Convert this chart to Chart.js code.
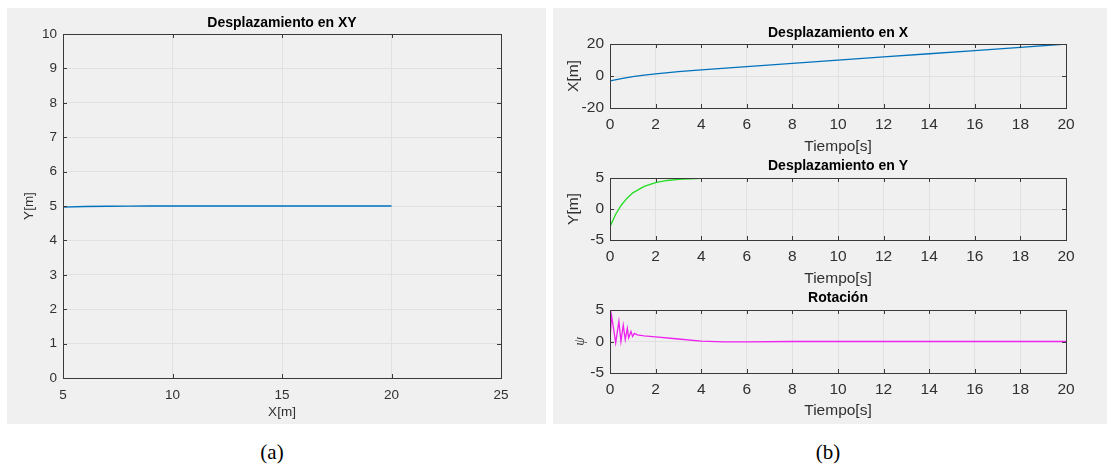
<!DOCTYPE html>
<html>
<head>
<meta charset="utf-8">
<script src="https://cdn.jsdelivr.net/npm/chart.js@4.4.1/dist/chart.umd.min.js"></script>
<style>
  body { margin: 0; background: #fff; }
  #page { position: relative; width: 1107px; height: 470px; overflow: hidden; background: #fff; }
  .gray { position: absolute; background: #f0f0f0; }
  canvas { position: absolute; }
  .cap { position: absolute; font-family: "Liberation Serif", "Times New Roman", serif; font-size: 21px; color: #000; transform: translate(-50%, -50%); }
</style>
</head>
<body>
<div id="page">
  <div class="gray" style="left:7px;top:8px;width:539px;height:416px"></div>
  <div class="gray" style="left:553px;top:8px;width:554px;height:416px"></div>
  <canvas id="cXY" width="539" height="416" style="left:7px;top:8px"></canvas>
  <canvas id="cX" width="554" height="416" style="left:553px;top:8px"></canvas>
  <canvas id="cY" width="554" height="416" style="left:553px;top:8px"></canvas>
  <canvas id="cPsi" width="554" height="416" style="left:553px;top:8px"></canvas>
  <div class="cap" style="left:272px;top:452px">(a)</div>
  <div class="cap" style="left:828px;top:452px">(b)</div>
</div>
<script>
// trayectoria XY (los puntos con x < 5 quedan fuera del eje)
const pathX = [-3.0, -0.4, 1.3, 2.7, 3.8, 5.0, 6.0, 7.0, 8.0, 9.0, 10, 12, 14, 16, 18, 20.0];
const pathY = [-2.85, 2.6, 4.25, 4.77, 4.93, 4.97, 4.985, 4.993, 4.998, 5.0, 5.0, 5.0, 5.0, 5.0, 5.0, 5.0];

// desplazamiento en X
const timeX = [0, 0.5, 1, 1.5, 2, 3, 4, 6, 8, 10, 12, 14, 16, 18, 20];
const posX = [-3.0, -1.6, -0.4, 0.6, 1.3, 2.7, 3.8, 5.8, 7.9, 9.9, 11.9, 13.9, 15.9, 17.9, 20.0];

// desplazamiento en Y
const timeY = [0, 0.25, 0.5, 0.75, 1, 1.5, 2, 2.5, 3, 3.5, 4, 5, 6, 8, 20];
const posY = [-2.85, -0.85, 0.65, 1.75, 2.6, 3.65, 4.25, 4.6, 4.77, 4.87, 4.93, 4.98, 5.0, 5.0, 5.0];

// rotacion psi
const timePsi = [0, 0.07, 0.25, 0.39, 0.48, 0.58, 0.67, 0.76, 0.82, 0.92, 0.99, 1.07, 1.2, 1.5, 2, 3, 4, 5, 6, 8, 20];
const psi = [0.3, 4.1, -0.2, 3.2, 0.0, 2.6, 0.3, 2.1, 0.6, 1.6, 0.8, 1.3, 1.05, 0.9, 0.75, 0.4, 0.05, -0.05, -0.05, 0, 0];

const SANS = '"Liberation Sans", Arial, sans-serif';
const TICK_COLOR = '#303030';
const GRID_COLOR = '#e1e1e1';

const toPoints = (xs, ys) => xs.map((x, i) => ({ x: x, y: ys[i] }));

// caja tipo MATLAB: borde, marcas hacia dentro y titulo
const matlabAxes = {
  id: 'matlabAxes',
  afterDraw(chart, args, opts) {
    const { ctx, chartArea: a } = chart;
    const sx = chart.scales.x, sy = chart.scales.y;
    const L = 4;
    ctx.save();
    ctx.strokeStyle = '#3a3a3a';
    ctx.lineWidth = 1;
    ctx.beginPath();
    sx.ticks.forEach(t => {
      const p = Math.round(sx.getPixelForValue(t.value)) + 0.5;
      ctx.moveTo(p, a.bottom); ctx.lineTo(p, a.bottom - L);
      ctx.moveTo(p, a.top); ctx.lineTo(p, a.top + L);
    });
    sy.ticks.forEach(t => {
      const p = Math.round(sy.getPixelForValue(t.value)) + 0.5;
      ctx.moveTo(a.left, p); ctx.lineTo(a.left + L, p);
      ctx.moveTo(a.right, p); ctx.lineTo(a.right - L, p);
    });
    ctx.stroke();
    ctx.strokeRect(Math.round(a.left) + 0.5, Math.round(a.top) + 0.5,
      Math.round(a.right - a.left), Math.round(a.bottom - a.top));
    ctx.fillStyle = '#000';
    ctx.font = 'bold 14px ' + SANS;
    ctx.textAlign = 'center';
    ctx.textBaseline = 'middle';
    ctx.fillText(opts.title, (a.left + a.right) / 2, opts.titleY);
    ctx.restore();
  }
};

function makeChart(id, s) {
  const ctx = document.getElementById(id).getContext('2d');
  const fs = s.fontSize;
  return new Chart(ctx, {
    type: 'line',
    data: {
      datasets: [{
        data: toPoints(s.xs, s.ys),
        borderColor: s.color,
        borderWidth: s.width || 1.3,
        pointRadius: 0,
        tension: 0,
        fill: false,
      }],
    },
    options: {
      responsive: false,
      animation: false,
      layout: { padding: { left: 0, top: s.top, right: s.right, bottom: s.bottom } },
      plugins: {
        legend: { display: false },
        tooltip: { enabled: false },
        matlabAxes: { title: s.title, titleY: s.titleY },
      },
      scales: {
        x: {
          type: 'linear',
          min: s.xMin, max: s.xMax,
          afterFit: (sc) => { sc.height = s.xH; },
          grid: { color: GRID_COLOR, drawTicks: false },
          border: { display: false },
          ticks: { stepSize: s.xStep, autoSkip: false, maxRotation: 0, padding: s.tickPad, color: TICK_COLOR, font: { family: SANS, size: fs } },
          title: { display: true, text: s.xLabel, color: TICK_COLOR, font: { family: SANS, size: fs }, padding: { top: 0, bottom: s.xTitlePad } },
        },
        y: {
          min: s.yMin, max: s.yMax,
          afterFit: (sc) => { sc.width = s.yW; },
          grid: { color: GRID_COLOR, drawTicks: false },
          border: { display: false },
          ticks: { stepSize: s.yStep, autoSkip: false, padding: 6, color: TICK_COLOR, font: { family: SANS, size: fs } },
          title: { display: true, text: s.yLabel, color: TICK_COLOR, font: s.yFont || { family: SANS, size: fs }, padding: { top: s.yTitlePad, bottom: 0 } },
        },
      },
    },
    plugins: [matlabAxes],
  });
}

makeChart('cXY', {
  xs: pathX, ys: pathY, color: '#0072BD', width: 1.3, fontSize: 13.5,
  title: 'Desplazamiento en XY', titleY: 15,
  top: 26, right: 45, bottom: 4, xH: 42, yW: 56, yTitlePad: 14.5, xTitlePad: 0, tickPad: 9,
  xMin: 5, xMax: 25, xStep: 5, yMin: 0, yMax: 10, yStep: 1,
  xLabel: 'X[m]', yLabel: 'Y[m]',
});

makeChart('cX', {
  xs: timeX, ys: posX, color: '#0072BD', fontSize: 15.5,
  title: 'Desplazamiento en X', titleY: 25,
  top: 36, right: 41, bottom: 268, xH: 48, yW: 57, yTitlePad: 11, xTitlePad: 0, tickPad: 7,
  xMin: 0, xMax: 20, xStep: 2, yMin: -20, yMax: 20, yStep: 20,
  xLabel: 'Tiempo[s]', yLabel: 'X[m]',
});

makeChart('cY', {
  xs: timeY, ys: posY, color: '#22dd22', fontSize: 15.5,
  title: 'Desplazamiento en Y', titleY: 158,
  top: 170, right: 41, bottom: 136, xH: 48, yW: 57, yTitlePad: 11, xTitlePad: 0, tickPad: 7,
  xMin: 0, xMax: 20, xStep: 2, yMin: -5, yMax: 5, yStep: 5,
  xLabel: 'Tiempo[s]', yLabel: 'Y[m]',
});

makeChart('cPsi', {
  xs: timePsi, ys: psi, color: '#ee22ee', fontSize: 15.5,
  title: 'Rotación', titleY: 290,
  top: 302, right: 41, bottom: 4, xH: 47, yW: 57, yTitlePad: 19,
  xTitlePad: 0, tickPad: 7,
  xMin: 0, xMax: 20, xStep: 2, yMin: -5, yMax: 5, yStep: 5,
  xLabel: 'Tiempo[s]', yLabel: 'ψ',
  yFont: { family: '"Liberation Serif", serif', size: 14, style: 'italic' },
});
</script>
</body>
</html>
